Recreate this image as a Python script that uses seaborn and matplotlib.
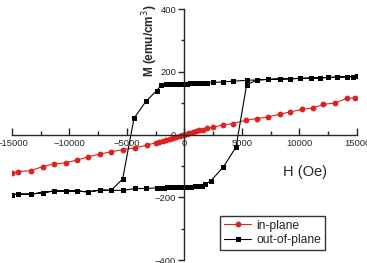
import numpy as np
import pandas as pd
import matplotlib
matplotlib.use('Agg')
import matplotlib.pyplot as plt
from matplotlib.ticker import MultipleLocator
import seaborn as sns

# in-plane loop (red), field in Oe, magnetisation in emu/cm3
inplane_H = [-15000, -14450, -13350, -12330, -11350, -10330, -9320, -8370, -7350, -6390,
             -5320, -4300, -3290, -2500, -2200, -1900, -1600, -1300, -1000, -700, -400, -200, 0,
             200, 400, 700, 1000, 1300, 1600, 2000, 2500, 3370, 4240, 5350, 6280,
             7290, 8300, 9170, 10190, 11200, 12070, 13090, 14100, 14830]
inplane_M = [-122, -118, -115, -102, -94, -90, -81, -71, -62, -55,
             -48, -42, -34, -26, -23, -20, -17, -13, -10, -7, -4, -2, 0,
             2, 4, 7, 10, 13, 16, 20, 23, 31, 35, 46, 51,
             56, 65, 72, 80, 85, 96, 101, 115, 117]

# out-of-plane loop (black): descending branch then ascending branch
down_H = [15000, 14680, 14100, 13230, 12500, 11780, 11000, 10040, 9170, 8300,
          7290, 6280, 5400, 4220, 3370, 2500, 2000, 1700, 1400, 1100, 800,
          500, 200, -100, -400, -700, -1000, -1300, -1600, -2000, -2420, -3350, -4390,
          -5380, -6390, -7350, -8370, -9320, -10330, -11350, -12330, -13350, -14450, -15000]
down_M = [186, 185, 184, 183, 182, 181, 180, 179, 178, 177,
          176, 174, 173, 170, 168, 166, 165, 164, 164, 164, 163,
          163, 162, 162, 161, 161, 161, 160, 160, 158, 140, 106, 52,
          -142, -178, -177, -183, -180, -180, -180, -185, -190, -190, -192]
up_H = [-15000, -14450, -13350, -12330, -11350, -10330, -9320, -8370, -7350, -6390,
        -5320, -4300, -3350, -2400, -2100, -1800, -1500, -1200, -900, -600, -300, 0,
        300, 600, 900, 1200, 1500, 1780, 2300, 3370, 4480, 5400, 6280,
        7290, 8300, 9170, 10040, 11000, 12500, 14100, 15000]
up_M = [-192, -190, -190, -185, -180, -180, -180, -183, -177, -178,
        -178, -172, -172, -170, -169, -169, -168, -168, -167, -167, -167, -167,
        -166, -166, -165, -165, -163, -159, -147, -104, -40, 158, 174,
        176, 177, 178, 179, 180, 182, 184, 186]

df_in = pd.DataFrame({'H': inplane_H, 'M': inplane_M})
df_out = pd.DataFrame({'H': down_H + up_H, 'M': down_M + up_M})

sns.set_style('ticks')
plt.rcParams['font.family'] = ['Liberation Sans', 'DejaVu Sans']

fig = plt.figure(figsize=(3.67, 2.63), dpi=100)
ax = fig.add_axes([0.0327, 0.0114, 0.940, 0.954])

# estimator=None keeps every point in its order (no averaging of the two branches)
sns.lineplot(data=df_in, x='H', y='M', sort=False, estimator=None, errorbar=None,
             color='#dd2222', marker='o', markersize=4.2, markeredgewidth=0,
             linewidth=0.8, label='in-plane', ax=ax)
sns.lineplot(data=df_out, x='H', y='M', sort=False, estimator=None, errorbar=None,
             color='black', marker='s', markersize=3.6, markeredgewidth=0,
             linewidth=0.8, label='out-of-plane', ax=ax)

ax.set_xlim(-15000, 15000)
ax.set_ylim(-400, 400)

for s in ['top', 'right']:
    ax.spines[s].set_visible(False)
ax.spines['left'].set_position(('data', 0))
ax.spines['bottom'].set_position(('data', 0))
ax.spines['left'].set_linewidth(1.0)
ax.spines['bottom'].set_linewidth(1.0)

ax.xaxis.set_major_locator(MultipleLocator(5000))
ax.xaxis.set_minor_locator(MultipleLocator(2500))
ax.yaxis.set_major_locator(MultipleLocator(200))
ax.yaxis.set_minor_locator(MultipleLocator(100))
ax.tick_params(axis='x', which='major', direction='in', length=5, width=1, labelsize=6.8, pad=3)
ax.tick_params(axis='x', which='minor', direction='in', length=3, width=1)
ax.tick_params(axis='y', which='major', direction='out', length=4, width=1, labelsize=6.8, pad=2)
ax.tick_params(axis='y', which='minor', direction='out', length=2, width=1)

ax.set_xlabel('H (Oe)', fontsize=10.5)
ax.xaxis.set_label_coords(0.849, 0.378)
ax.set_ylabel('M (emu/cm$^3$)', fontsize=8.5, fontweight='bold')
ax.yaxis.set_label_coords(0.43, 0.875)

leg = ax.legend(loc='upper left', bbox_to_anchor=(0.603, 0.175), fontsize=8.7,
                frameon=True, fancybox=False, handlelength=2.3, handletextpad=0.4,
                borderpad=0.3, labelspacing=0.2, borderaxespad=0)
leg.get_frame().set_edgecolor('black')
leg.get_frame().set_linewidth(1.0)

fig.savefig('out.png', dpi=100)
